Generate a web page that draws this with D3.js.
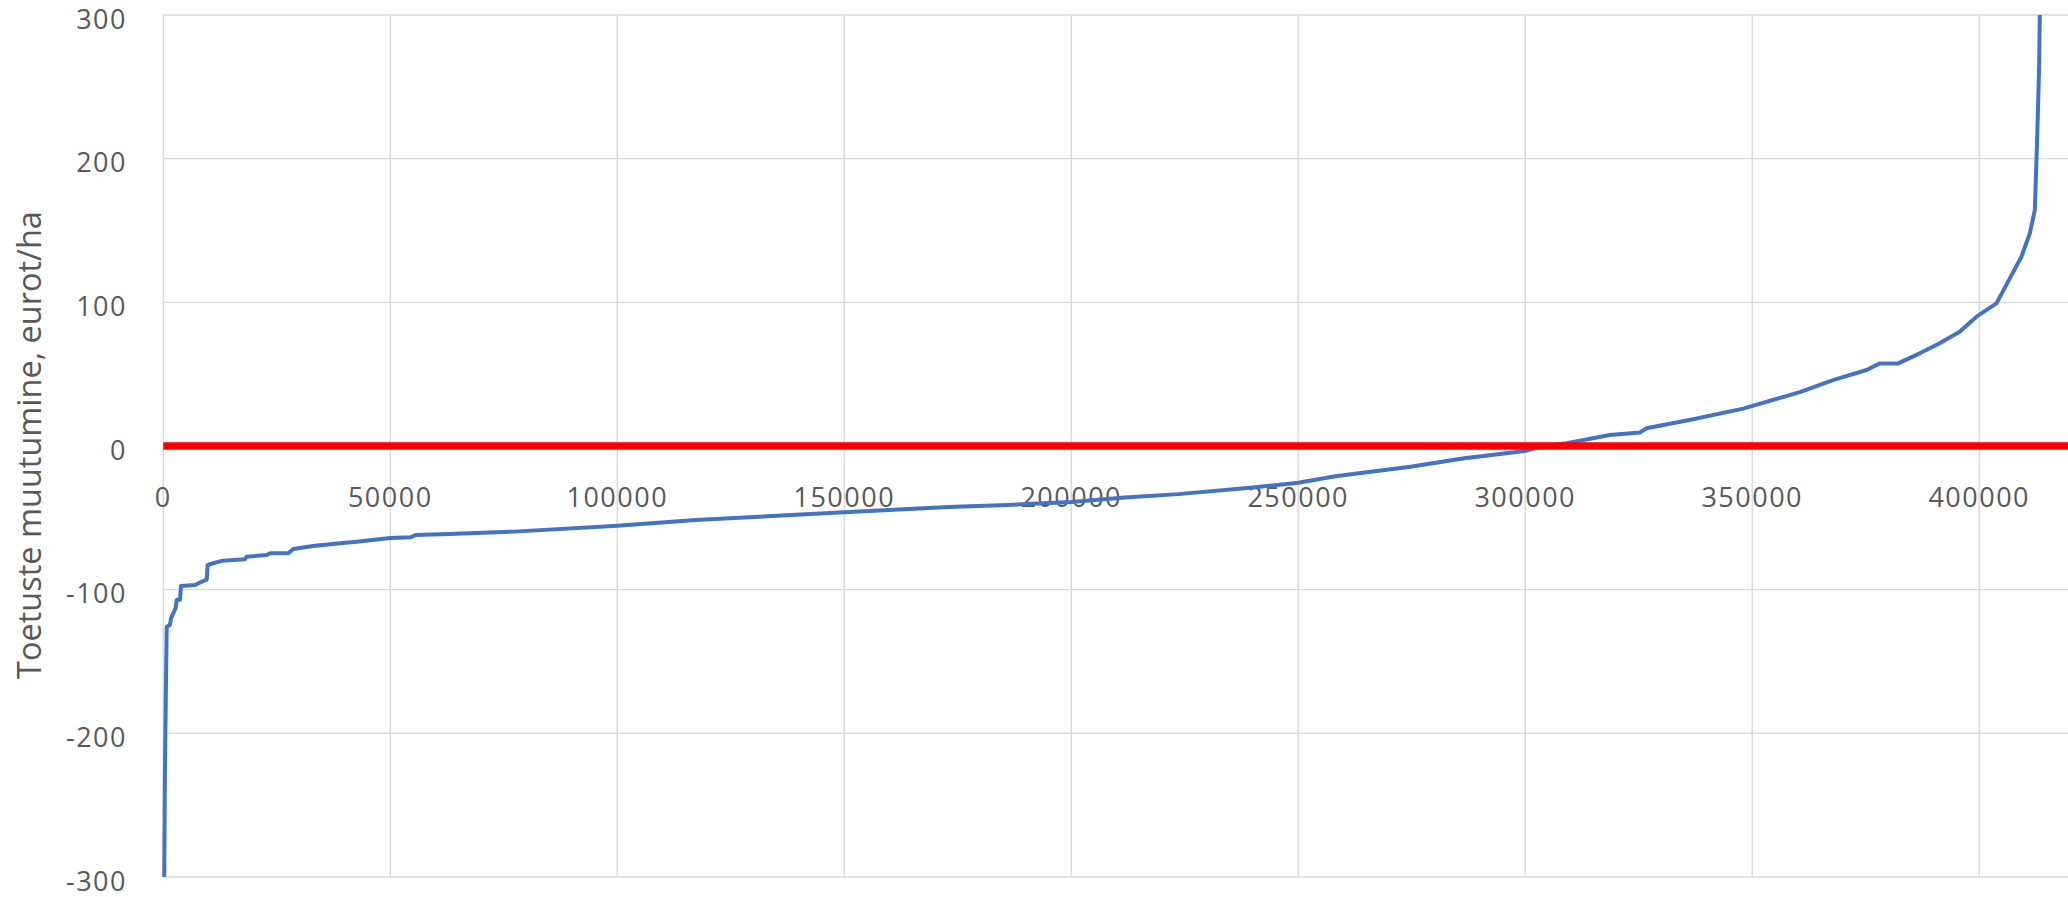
<!DOCTYPE html>
<html><head><meta charset="utf-8">
<script src="https://cdn.jsdelivr.net/npm/d3@7"></script>
<style>html,body{margin:0;padding:0;background:#fff;overflow:hidden}svg{display:block}</style>
</head><body>
<svg id="chart" width="2068" height="897"></svg>
<script>
// ---- data ----
const xTicks = [0, 50000, 100000, 150000, 200000, 250000, 300000, 350000, 400000];
const yTicks = [-300, -200, -100, 0, 100, 200, 300];
const yTitle = "Toetuste muutumine, eurot/ha";

// sorted change in support per hectare (x = cumulative hectares)
const curveX = [0, 150, 350, 550, 750, 1475, 1700, 2730, 2950, 3680, 3900, 7000, 8080, 9560, 9780,
  11010, 13080, 18000, 18370, 22775, 23500, 27530, 28630, 32970, 38920, 42600, 50000, 54500, 55500,
  63000, 77300, 100000, 117300, 150000, 173000, 186000, 200000, 211800, 223600, 239400, 250000,
  258200, 274700, 286600, 299900, 304000, 309100, 318650, 325250, 326700, 337000, 348000, 360500,
  367800, 375200, 378100, 382150, 386900, 391300, 395700, 399400, 403800, 406750, 409300, 411150,
  412250, 412800, 413200, 413350, 413500];
const curveY = [-420, -330, -230, -175, -126, -124.5, -120, -112.7, -107, -107, -97.4, -96.7, -95, -93, -82.8,
  -81.6, -79.8, -78.8, -77, -75.9, -74.7, -74.7, -71.7, -69.6, -67.7, -66.6, -64, -63.5, -62,
  -61.2, -59.6, -55.5, -51.5, -46.1, -42.5, -41, -39, -35.8, -33.5, -29, -25.6,
  -21, -14.4, -8.5, -3.5, 0, 1.9, 7.7, 9.4, 12.3, 18.6, 26, 37.5,
  45.9, 52.9, 57.5, 57.5, 64.5, 71.5, 79.5, 90, 99.3, 116.7, 131.7, 148,
  164.2, 217.6, 264, 300, 420];

const zeroX = [0, 420000];
const zeroY = [0, 0];

// ---- layout ----
const W = 2068, H = 897;
const pLeft = 163.3, pRight = 2070, pTop = 15, pBottom = 877;
const svg = d3.select("#chart");
const x = d3.scaleLinear().domain([0, 420000]).range([pLeft, pRight]);
const y = d3.scaleLinear().domain([-300, 300]).range([pBottom, pTop]);

const font = "'Open Sans', 'Noto Sans', sans-serif";
const grey = "#595959";

// gridlines
const g = svg.append("g");
g.selectAll("line.h").data(yTicks).join("line")
  .attr("x1", pLeft).attr("x2", W)
  .attr("y1", d => y(d)).attr("y2", d => y(d))
  .attr("stroke", "#d9d9d9").attr("stroke-width", 1.4);
g.selectAll("line.v").data(xTicks).join("line")
  .attr("x1", d => x(d)).attr("x2", d => x(d))
  .attr("y1", pTop).attr("y2", pBottom)
  .attr("stroke", "#d9d9d9").attr("stroke-width", 1.4);

// y tick labels
svg.append("g").selectAll("text").data(yTicks).join("text")
  .attr("x", 127).attr("y", d => y(d) + 3)
  .attr("text-anchor", "end").attr("dominant-baseline", "central")
  .attr("font-family", font).attr("font-size", 27).attr("letter-spacing", 1.5)
  .attr("fill", grey).text(d => d);

// x tick labels (next to zero axis)
svg.append("g").selectAll("text").data(xTicks).join("text")
  .attr("x", d => x(d)).attr("y", y(0) + 50)
  .attr("text-anchor", "middle").attr("dominant-baseline", "central")
  .attr("font-family", font).attr("font-size", 27).attr("letter-spacing", 1.5)
  .attr("fill", grey).text(d => d);

// clip
svg.append("clipPath").attr("id", "clip").append("rect")
  .attr("x", pLeft - 3).attr("y", pTop).attr("width", W - pLeft + 3).attr("height", pBottom - pTop);

const line = d3.line().x(d => x(d[0])).y(d => y(d[1]));
const curve = curveX.map((v, i) => [v, curveY[i]]);
svg.append("path").datum(curve)
  .attr("clip-path", "url(#clip)")
  .attr("d", line).attr("fill", "none")
  .attr("stroke", "#4472C4").attr("stroke-width", 4)
  .attr("stroke-linejoin", "round");

const zero = zeroX.map((v, i) => [v, zeroY[i]]);
svg.append("path").datum(zero)
  .attr("d", line).attr("fill", "none")
  .attr("stroke", "#FF0000").attr("stroke-width", 7.5);

// y axis title
const t = svg.append("text")
  .attr("font-family", font).attr("font-size", 100).attr("fill", grey)
  .attr("text-anchor", "middle").attr("dominant-baseline", "central")
  .attr("transform", "translate(28,445) rotate(-90)")
  .text(yTitle);
const len = t.node().getComputedTextLength();
t.attr("font-size", 100 * 468 / len);
</script>
</body></html>
